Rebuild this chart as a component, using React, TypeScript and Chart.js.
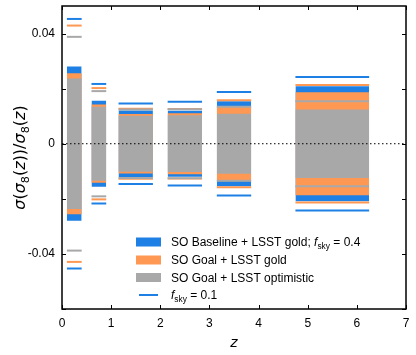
import React, { useEffect, useRef } from "react";
import { Chart, registerables } from "chart.js";

Chart.register(...registerables);

// ---- data ----
const barZLow = [0.1, 0.6, 1.15, 2.15, 3.15, 4.75];
const barZHigh = [0.4, 0.9, 1.85, 2.85, 3.85, 6.25];

// f_sky = 0.4 (filled bars, symmetric about zero)
const soBaselineGold04 = [0.028, 0.0156, 0.0121, 0.012, 0.0154, 0.0209];
const soGoalGold04 = [0.0256, 0.0142, 0.0108, 0.0111, 0.0136, 0.0187];
const soGoalOptimistic04 = [0.0237, 0.0134, 0.0102, 0.0103, 0.0109, 0.0124];

// f_sky = 0.1 (horizontal lines, symmetric about zero)
const soBaselineGold01 = [0.0453, 0.0217, 0.0146, 0.0152, 0.0188, 0.0242];
const soGoalGold01 = [0.0429, 0.0202, 0.0127, 0.0126, 0.0158, 0.0213];
const soGoalOptimistic01 = [0.0388, 0.0191, 0.0124, 0.0125, 0.0134, 0.0154];

const xTickValues = [0, 1, 2, 3, 4, 5, 6, 7];
const yTickValues = [-0.06, -0.04, -0.02, 0, 0.02, 0.04];
const yLabelledTicks = [-0.04, 0, 0.04];

const legendLabelsMain = ["SO Baseline + LSST gold; ", "SO Goal + LSST gold", "SO Goal + LSST optimistic"];
const fskyMain = " = 0.4";
const fskyAlt = " = 0.1";

const BLUE = "#1e80e4";
const ORANGE = "#ff9852";
const GRAY = "#a8a8a8";
const SANS = "'Liberation Sans', Arial, sans-serif";
const MATH = "'DejaVu Sans', sans-serif";

type Part = { t: string; it?: boolean; sub?: boolean };

function drawRich(ctx: CanvasRenderingContext2D, parts: Part[], x: number, y: number, size: number, family: string, align: "left" | "center") {
  const fontFor = (p: Part) => `${p.it ? "italic " : ""}${p.sub ? size * 0.7 : size}px ${family}`;
  let total = 0;
  const widths = parts.map((p) => {
    ctx.font = fontFor(p);
    const w = ctx.measureText(p.t).width;
    total += w;
    return w;
  });
  let cx = align === "center" ? x - total / 2 : x;
  ctx.textAlign = "left";
  ctx.textBaseline = "alphabetic";
  parts.forEach((p, i) => {
    ctx.font = fontFor(p);
    ctx.fillText(p.t, cx, p.sub ? y + size * 0.28 : y);
    cx += widths[i];
  });
}

const decorPlugin = {
  id: "decor",
  afterDraw(chart: any) {
    const { ctx, chartArea } = chart;
    const { left, right, top, bottom } = chartArea;
    const xs = chart.scales.x;
    const ys = chart.scales.y;
    ctx.save();
    // inward ticks on all sides
    ctx.strokeStyle = "#000";
    ctx.lineWidth = 1;
    ctx.beginPath();
    xTickValues.forEach((v) => {
      const px = Math.round(xs.getPixelForValue(v)) + 0.5;
      ctx.moveTo(px, bottom);
      ctx.lineTo(px, bottom - 4);
      ctx.moveTo(px, top);
      ctx.lineTo(px, top + 4);
    });
    yTickValues.forEach((v) => {
      const py = Math.round(ys.getPixelForValue(v)) + 0.5;
      ctx.moveTo(left, py);
      ctx.lineTo(left + 4, py);
      ctx.moveTo(right, py);
      ctx.lineTo(right - 4, py);
    });
    ctx.stroke();
    // frame
    ctx.lineWidth = 1.5;
    ctx.strokeRect(left, top, right - left, bottom - top);

    // legend
    ctx.fillStyle = "#000";
    const rowsY = [bottom - 67, bottom - 49, bottom - 31.5, bottom - 14];
    const hx = left + 74;
    const hw = 25;
    const tx = left + 109;
    const fs = 12;
    const colors = [BLUE, ORANGE, GRAY];
    const rows: Part[][] = [
      [{ t: legendLabelsMain[0] }, { t: "f", it: true }, { t: "sky", sub: true }, { t: fskyMain }],
      [{ t: legendLabelsMain[1] }],
      [{ t: legendLabelsMain[2] }],
      [{ t: "f", it: true }, { t: "sky", sub: true }, { t: fskyAlt }],
    ];
    rows.forEach((parts, i) => {
      const cy = rowsY[i];
      if (i < 3) {
        ctx.fillStyle = colors[i];
        ctx.fillRect(hx, cy - 4.5, hw, 9);
      } else {
        ctx.strokeStyle = BLUE;
        ctx.lineWidth = 2;
        ctx.beginPath();
        ctx.moveTo(hx + 3, cy);
        ctx.lineTo(hx + hw - 3, cy);
        ctx.stroke();
      }
      ctx.fillStyle = "#000";
      drawRich(ctx, parts, tx, cy + 4, fs, SANS, "left");
    });

    // axis titles
    ctx.fillStyle = "#000";
    drawRich(ctx, [{ t: "z", it: true }], (left + right) / 2, 347, 14, MATH, "center");
    ctx.translate(20, (top + bottom) / 2);
    ctx.rotate(-Math.PI / 2);
    drawRich(
      ctx,
      [
        { t: "σ", it: true },
        { t: "(" },
        { t: "σ", it: true },
        { t: "8", sub: true },
        { t: "(" },
        { t: "z", it: true },
        { t: "))/" },
        { t: "σ", it: true },
        { t: "8", sub: true },
        { t: "(" },
        { t: "z", it: true },
        { t: ")" },
      ],
      0,
      5,
      16,
      MATH,
      "center"
    );
    ctx.restore();
  },
};

export default function App() {
  const ref = useRef<HTMLCanvasElement | null>(null);

  useEffect(() => {
    if (!ref.current) return;
    const layers: any[] = [];
    const barSets = [
      { vals: soBaselineGold04, color: BLUE },
      { vals: soGoalGold04, color: ORANGE },
      { vals: soGoalOptimistic04, color: GRAY },
    ];
    const lineSets = [
      { vals: soBaselineGold01, color: BLUE },
      { vals: soGoalGold01, color: ORANGE },
      { vals: soGoalOptimistic01, color: GRAY },
    ];
    barZLow.forEach((lo, i) => {
      const hi = barZHigh[i];
      barSets.forEach((s) => {
        const v = s.vals[i];
        layers.push({
          data: [{ x: lo, y: v }, { x: hi, y: v }],
          fill: { value: -v },
          backgroundColor: s.color,
          borderWidth: 0,
          pointRadius: 0,
        });
      });
    });
    barZLow.forEach((lo, i) => {
      const hi = barZHigh[i];
      lineSets.forEach((s) => {
        const v = s.vals[i];
        [v, -v].forEach((yv) => {
          layers.push({
            data: [{ x: lo, y: yv }, { x: hi, y: yv }],
            fill: false,
            borderColor: s.color,
            borderWidth: 2,
            pointRadius: 0,
          });
        });
      });
    });
    layers.push({
      data: [{ x: 0, y: 0 }, { x: 7, y: 0 }],
      fill: false,
      borderColor: "#000",
      borderWidth: 1,
      borderDash: [1.5, 2.5],
      pointRadius: 0,
    });
    const N = layers.length;
    layers.forEach((d, idx) => {
      d.order = N - idx;
    });

    const chart = new Chart(ref.current, {
      type: "line",
      data: { datasets: layers },
      options: {
        animation: false,
        responsive: false,
        devicePixelRatio: 1,
        layout: { padding: { top: 6, right: 10, left: 0, bottom: 0 } },
        plugins: { legend: { display: false }, tooltip: { enabled: false } },
        scales: {
          x: {
            type: "linear",
            min: 0,
            max: 7,
            grid: { display: false, drawTicks: false },
            border: { display: false },
            ticks: {
              stepSize: 1,
              padding: 7,
              color: "#000",
              maxRotation: 0,
              font: { family: SANS, size: 12 },
            },
            afterFit: (s: any) => {
              s.height = 46;
              s.paddingLeft = 0;
              s.paddingRight = 0;
            },
          },
          y: {
            type: "linear",
            min: -0.06,
            max: 0.05,
            grid: { display: false, drawTicks: false },
            border: { display: false },
            ticks: {
              stepSize: 0.02,
              padding: 7,
              color: "#000",
              font: { family: SANS, size: 12 },
              callback: (v: any) => {
                const r = Math.round(Number(v) * 100) / 100;
                return yLabelledTicks.some((t) => Math.abs(t - r) < 1e-9) ? String(r) : "";
              },
            },
            afterFit: (s: any) => {
              s.width = 62;
              s.paddingTop = 0;
              s.paddingBottom = 0;
            },
          },
        },
      },
      plugins: [decorPlugin],
    });
    return () => chart.destroy();
  }, []);

  return (
    <div style={{ position: "fixed", left: 0, top: 0, width: 416, height: 355, background: "#fff" }}>
      <canvas ref={ref} width={416} height={355} style={{ display: "block" }} />
    </div>
  );
}
